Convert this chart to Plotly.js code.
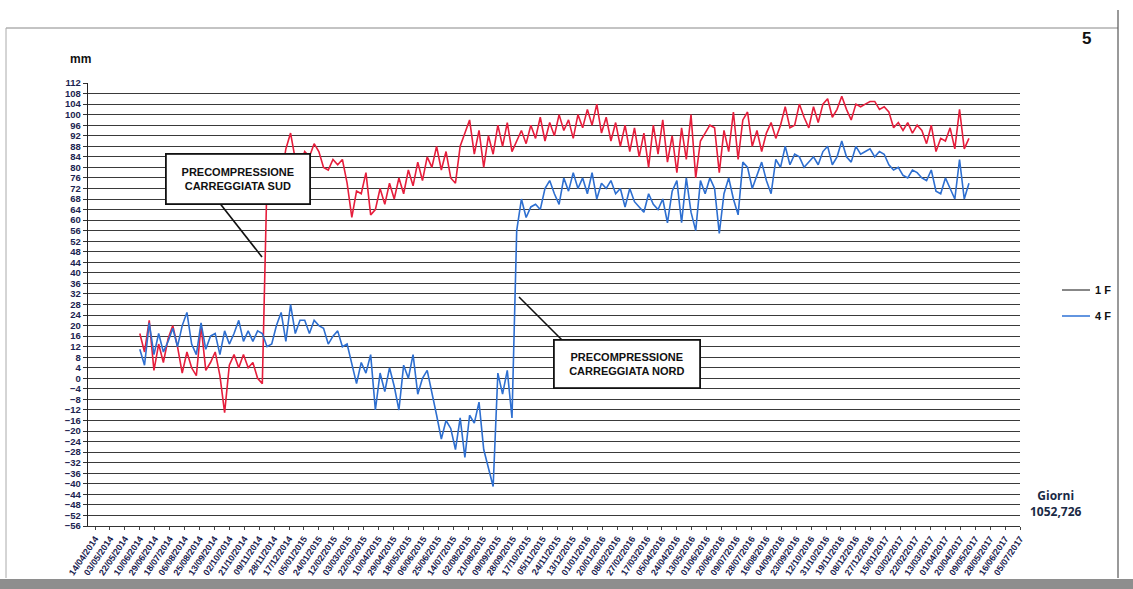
<!DOCTYPE html>
<html>
<head>
<meta charset="utf-8">
<script src="https://cdn.plot.ly/plotly-3.0.1.min.js"></script>
<style>
html,body{margin:0;padding:0;background:#fff;}
#chart{width:1133px;height:589px;}
</style>
</head>
<body>
<div id="chart"></div>
<script>
// ---- data ----
const dates = [
"2014-06-10","2014-06-16","2014-06-22","2014-06-28","2014-07-04","2014-07-10","2014-07-16","2014-07-22","2014-07-28","2014-08-03",
"2014-08-09","2014-08-15","2014-08-21","2014-08-27","2014-09-02","2014-09-08","2014-09-14","2014-09-20","2014-09-26","2014-10-02",
"2014-10-08","2014-10-14","2014-10-20","2014-10-26","2014-11-01","2014-11-07","2014-11-13","2014-11-19","2014-11-25","2014-12-01",
"2014-12-07","2014-12-13","2014-12-19","2014-12-25","2014-12-31","2015-01-06","2015-01-12","2015-01-18","2015-01-24","2015-01-30",
"2015-02-05","2015-02-11","2015-02-17","2015-02-23","2015-03-01","2015-03-07","2015-03-13","2015-03-19","2015-03-25","2015-03-31",
"2015-04-06","2015-04-12","2015-04-18","2015-04-24","2015-04-30","2015-05-06","2015-05-12","2015-05-18","2015-05-24","2015-05-30",
"2015-06-05","2015-06-11","2015-06-17","2015-06-23","2015-06-29","2015-07-05","2015-07-11","2015-07-17","2015-07-23","2015-07-29",
"2015-08-04","2015-08-10","2015-08-16","2015-08-22","2015-08-28","2015-09-03","2015-09-09","2015-09-15","2015-09-21","2015-09-27",
"2015-10-03","2015-10-09","2015-10-15","2015-10-21","2015-10-27","2015-11-02","2015-11-08","2015-11-14","2015-11-20","2015-11-26",
"2015-12-02","2015-12-08","2015-12-14","2015-12-20","2015-12-26","2016-01-01","2016-01-07","2016-01-13","2016-01-19","2016-01-25",
"2016-01-31","2016-02-06","2016-02-12","2016-02-18","2016-02-24","2016-03-01","2016-03-07","2016-03-13","2016-03-19","2016-03-25",
"2016-03-31","2016-04-06","2016-04-12","2016-04-18","2016-04-24","2016-04-30","2016-05-06","2016-05-12","2016-05-18","2016-05-24",
"2016-05-30","2016-06-05","2016-06-11","2016-06-17","2016-06-23","2016-06-29","2016-07-05","2016-07-11","2016-07-17","2016-07-23",
"2016-07-29","2016-08-04","2016-08-10","2016-08-16","2016-08-22","2016-08-28","2016-09-03","2016-09-09","2016-09-15","2016-09-21",
"2016-09-27","2016-10-03","2016-10-09","2016-10-15","2016-10-21","2016-10-27","2016-11-02","2016-11-08","2016-11-14","2016-11-20",
"2016-11-26","2016-12-02","2016-12-08","2016-12-14","2016-12-20","2016-12-26","2017-01-01","2017-01-07","2017-01-13","2017-01-19",
"2017-01-25","2017-01-31","2017-02-06","2017-02-12","2017-02-18","2017-02-24","2017-03-02","2017-03-08","2017-03-14","2017-03-20",
"2017-03-26","2017-04-01","2017-04-07","2017-04-13","2017-04-19","2017-04-25","2017-05-01"
];

const series1F = [
17,10,22,3,13,6,15,20,12,2,
10,4,1,20,3,6,10,1,-13,5,
9,4,9,4,6,0,-2,76,78,81,
76,87,93,83,81,86,84,89,86,80,
79,83,81,83,74,61,71,70,78,62,
64,72,66,74,68,76,70,79,73,82,
75,84,80,88,79,86,76,74,88,93,
98,85,94,80,92,85,96,88,97,86,
90,94,89,96,91,99,90,97,92,100,
94,98,91,100,95,102,96,104,93,99,
90,97,88,96,86,95,84,93,80,96,
85,98,82,92,78,95,83,100,76,90,
93,96,95,78,94,86,101,83,98,101,
88,94,86,93,97,91,96,103,95,96,
104,99,95,103,97,104,106,99,102,107,
102,98,104,103,104,105,105,102,103,101,
95,97,94,97,93,96,94,89,96,86,
91,90,95,87,102,87,91
];

const series4F = [
11,5,21,9,17,10,14,19,12,20,
25,13,9,21,11,16,17,9,18,13,
17,22,14,18,14,18,17,12,13,20,
25,14,28,17,22,22,17,22,20,19,
13,16,18,12,13,5,-2,6,2,9,
-12,2,-5,4,-3,-12,5,0,9,-6,
0,3,-5,-14,-23,-16,-19,-27,-15,-30,
-14,-17,-9,-27,-34,-41,2,-6,3,-15,
56,68,61,65,66,64,72,75,70,66,
76,71,78,72,76,70,78,68,74,72,
75,70,72,65,72,67,65,63,70,66,
64,68,59,71,75,59,76,63,56,75,
70,76,72,55,70,76,68,62,82,80,
72,77,82,75,70,83,80,88,81,85,
84,80,82,84,81,86,88,81,84,90,
84,82,88,85,86,87,84,86,85,81,
79,80,77,76,79,78,76,75,79,71,
70,76,72,68,83,68,74
];

const tickLabels = [
"14/04/2014","03/05/2014","22/05/2014","10/06/2014","29/06/2014","18/07/2014","06/08/2014","25/08/2014","13/09/2014","02/10/2014",
"21/10/2014","09/11/2014","28/11/2014","17/12/2014","05/01/2015","24/01/2015","12/02/2015","03/03/2015","22/03/2015","10/04/2015",
"29/04/2015","18/05/2015","06/06/2015","25/06/2015","14/07/2015","02/08/2015","21/08/2015","09/09/2015","28/09/2015","17/10/2015",
"05/11/2015","24/11/2015","13/12/2015","01/01/2016","20/01/2016","08/02/2016","27/02/2016","17/03/2016","05/04/2016","24/04/2016",
"13/05/2016","01/06/2016","20/06/2016","09/07/2016","28/07/2016","16/08/2016","04/09/2016","23/09/2016","12/10/2016","31/10/2016",
"19/11/2016","08/12/2016","27/12/2016","15/01/2017","03/02/2017","22/02/2017","13/03/2017","01/04/2017","20/04/2017","09/05/2017",
"28/05/2017","16/06/2017","05/07/2017"
];

const seriesNames = ["1 F","4 F"];
// ---------------------------------------------

const tickVals = tickLabels.map(s => { const p = s.split("/"); return p[2]+"-"+p[1]+"-"+p[0]; });

const navy = "#1b2350";
const tickFont = "Liberation Sans Narrow, Arial Narrow, Liberation Sans, Arial, sans-serif";
const boxFont = "Liberation Sans, Arial, sans-serif";

const traces = [
  {x: dates, y: series1F, name: seriesNames[0], type: "scatter", mode: "lines",
   line: {color: "#e61e3c", width: 1.6}, showlegend: false},
  {x: dates, y: series4F, name: seriesNames[1], type: "scatter", mode: "lines",
   line: {color: "#2e6fd0", width: 1.6}, showlegend: false}
];

const L = 88, R = 1020, T = 83, B = 526;
const W = R - L, H = B - T;
const px = v => (v - L) / W;
const py = v => (B - v) / H;

const layout = {
  width: 1133, height: 589,
  margin: {l: L, r: 1133 - R, t: T, b: 589 - B},
  paper_bgcolor: "#ffffff", plot_bgcolor: "#ffffff",
  showlegend: false,
  xaxis: {
    type: "date",
    range: ["2014-04-05", "2017-07-05"],
    tickmode: "array", tickvals: tickVals, ticktext: tickLabels,
    tickangle: -56,
    tickfont: {family: tickFont, size: 9, color: navy, weight: "bold"},
    ticks: "outside", ticklen: 3, tickcolor: "#444",
    showgrid: false, zeroline: false,
    showline: true, linecolor: "#333", linewidth: 1,
    fixedrange: true
  },
  yaxis: {
    range: [-56, 112],
    tick0: 0, dtick: 4,
    tickfont: {family: tickFont, size: 9.5, color: navy, weight: "bold"},
    ticks: "outside", ticklen: 4, tickcolor: "#333",
    showgrid: true, gridcolor: "#3a3a3a", gridwidth: 1,
    zeroline: false,
    showline: true, linecolor: "#222", linewidth: 1.2,
    fixedrange: true
  },
  shapes: [
    // photo frame
    {type: "line", xref: "paper", yref: "paper", x0: px(6), x1: px(1118), y0: py(28), y1: py(28), line: {color: "#888", width: 1}},
    {type: "line", xref: "paper", yref: "paper", x0: px(1118), x1: px(1118), y0: py(10), y1: py(578), line: {color: "#555", width: 1.2}},
    {type: "line", xref: "paper", yref: "paper", x0: px(6), x1: px(6), y0: py(28), y1: py(578), line: {color: "#aaa", width: 1}},
    {type: "rect", xref: "paper", yref: "paper", x0: px(0), x1: px(1133), y0: py(579), y1: py(589), line: {width: 0}, fillcolor: "#8e8e8e", layer: "below"},
    // annotation pointer lines
    {type: "line", xref: "paper", yref: "paper", x0: px(200), y0: py(178), x1: px(262), y1: py(257), line: {color: "#111", width: 1.6}},
    {type: "line", xref: "paper", yref: "paper", x0: px(587), y0: py(365), x1: px(519), y1: py(297), line: {color: "#111", width: 1.6}},
    // legend lines
    {type: "line", xref: "paper", yref: "paper", x0: px(1062), x1: px(1090), y0: py(290), y1: py(290), line: {color: "#111", width: 1}},
    {type: "line", xref: "paper", yref: "paper", x0: px(1062), x1: px(1090), y0: py(316), y1: py(316), line: {color: "#3a7ad8", width: 1.6}}
  ],
  annotations: [
    {text: "<b>mm</b>", xref: "paper", yref: "paper", x: px(68), y: py(50), showarrow: false,
     font: {family: boxFont, size: 12, color: "#111"}},
    {text: "<b>5</b>", xref: "paper", yref: "paper", x: px(1093), y: py(27), showarrow: false,
     font: {family: boxFont, size: 17, color: "#111"}},
    {text: "<b>PRECOMPRESSIONE<br>CARREGGIATA SUD</b>", xref: "paper", yref: "paper", x: px(165), y: py(153),
     showarrow: false, width: 138, height: 44, bgcolor: "#ffffff", bordercolor: "#111", borderwidth: 1.8, borderpad: 2,
     align: "center", font: {family: boxFont, size: 11, color: "#111"}},
    {text: "<b>PRECOMPRESSIONE<br>CARREGGIATA NORD</b>", xref: "paper", yref: "paper", x: px(627), y: py(389),
     showarrow: false, width: 140, height: 42, bgcolor: "#ffffff", bordercolor: "#111", borderwidth: 1.8, borderpad: 2,
     align: "center", font: {family: boxFont, size: 11, color: "#111"}},
    {text: "<b>" + seriesNames[0] + "</b>", xref: "paper", yref: "paper", x: px(1093), y: py(290), xanchor: "left", showarrow: false,
     font: {family: boxFont, size: 11, color: "#111"}},
    {text: "<b>" + seriesNames[1] + "</b>", xref: "paper", yref: "paper", x: px(1093), y: py(316), xanchor: "left", showarrow: false,
     font: {family: boxFont, size: 11, color: "#111"}},
    {text: "<b>Giorni<br>1052,726</b>", xref: "paper", yref: "paper", x: px(1084), y: py(522), showarrow: false,
     align: "center", font: {family: "Open Sans, Liberation Sans, sans-serif", size: 12, color: "#1a2a45"}}
  ]
};

Plotly.newPlot("chart", traces, layout, {staticPlot: true, displayModeBar: false});
</script>
</body>
</html>
